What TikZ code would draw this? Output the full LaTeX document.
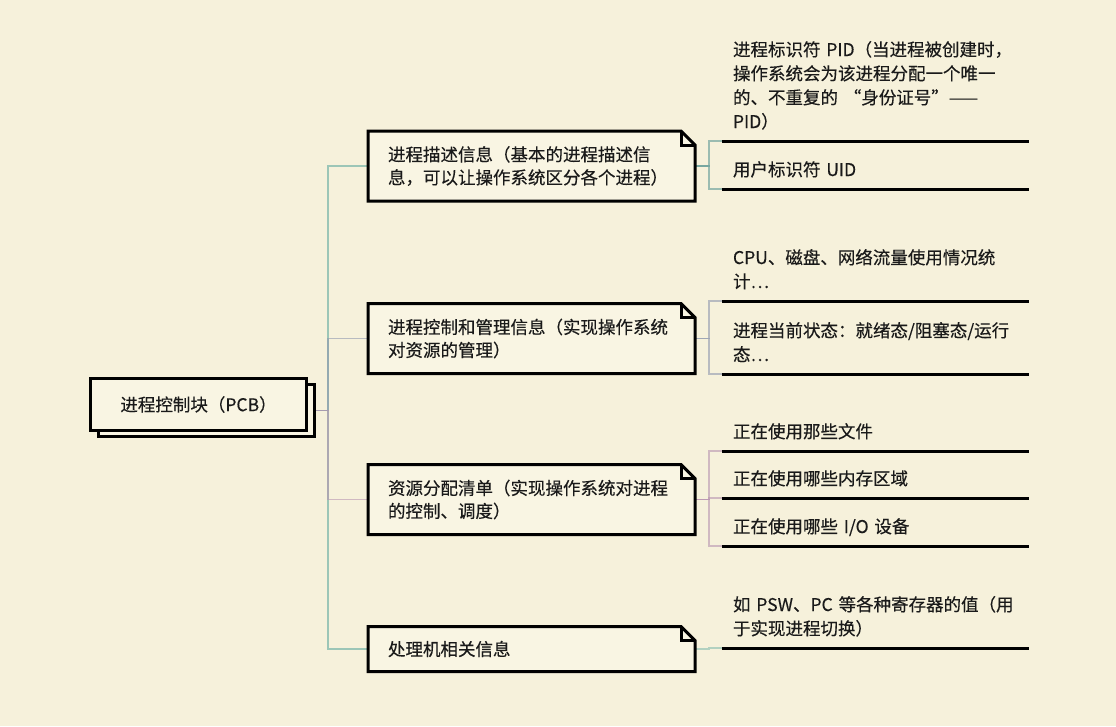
\documentclass[tikz,border=0pt]{standalone}
\usepackage{fontspec}
\setmainfont{Noto Sans CJK SC}[FakeBold=0.35]
\usetikzlibrary{backgrounds}
\definecolor{pagebg}{HTML}{F6F1DB}
\definecolor{boxfill}{HTML}{F9F5E3}
\definecolor{ink}{HTML}{1A1A1A}
\definecolor{tealtrunk}{HTML}{86BCAF}
\definecolor{tealdeep}{HTML}{5F9996}
\definecolor{lavender}{HTML}{8F98AE}
\definecolor{mauve}{HTML}{B894B0}
% fixed depth under the last line of a leaf, so its rule sits at a set distance
\newcommand\leafdepth{\rule[-13pt]{0pt}{13pt}}
\begin{document}
\begin{tikzpicture}[x=1pt, y=-1pt,
  every node/.style={outer sep=0pt},
  rootbox/.style={draw=black, line width=3pt, fill=boxfill, minimum width=216pt,
    minimum height=52pt, inner sep=0pt, font=\fontsize{17.5}{23}\selectfont, text=ink},
  branchtext/.style={minimum width=327pt, minimum height=70pt, inner xsep=20pt, inner ysep=0pt,
    text width=287pt, align=left, font=\fontsize{17.5}{23}\selectfont, text=ink},
  leaftext/.style={anchor=south west, inner xsep=11pt, inner ysep=0pt, text width=296pt,
    align=left, font=\fontsize{17.5}{24}\selectfont, text=ink},
  notebox/.style={draw=black, line width=3pt, fill=boxfill, line join=miter},
  link/.style={line width=1.5pt, opacity=0.8},
  softlink/.style={line width=1.5pt, opacity=0.6},
  leafrule/.style={draw=black, line width=3pt}
]
\useasboundingbox (0,0) rectangle (1116,726);

% central topic with its offset copy behind
\node[rootbox] (rootback) at (206.5,410.5) {};
\node[rootbox] (root) at (198.5,404.5) {进程控制块（PCB）};

\coordinate (trunk) at (328,0);

% main branches
\node[branchtext] (b1) at (531.5,166) {进程描述信息（基本的进程描述信\\息，可以让操作系统区分各个进程）};
\node[branchtext] (b2) at (531.5,338.5) {进程控制和管理信息（实现操作系统\\对资源的管理）};
\node[branchtext] (b3) at (531.5,499.5) {资源分配清单（实现操作系统对进程\\的控制、调度）};
\node[branchtext, minimum height=45pt] (b4) at (531.5,649) {处理机相关信息};

% leaves: text standing on a rule
\node[leaftext] (l1a) at (722,141) {进程标识符 PID（当进程被创建时，\\操作系统会为该进程分配一个唯一\\的、不重复的 “身份证号”——\\PID）\leafdepth};
\node[leaftext] (l1b) at (722,189) {用户标识符 UID\leafdepth};
\node[leaftext] (l2a) at (722,301) {CPU、磁盘、网络流量使用情况统\\计…\leafdepth};
\node[leaftext] (l2b) at (722,374) {进程当前状态：就绪态/阻塞态/运行\\态…\leafdepth};
\node[leaftext] (l3a) at (722,451) {正在使用那些文件\leafdepth};
\node[leaftext] (l3b) at (722,498) {正在使用哪些内存区域\leafdepth};
\node[leaftext] (l3c) at (722,546) {正在使用哪些 I/O 设备\leafdepth};
\node[leaftext] (l4) at (722,648) {如 PSW、PC 等各种寄存器的值（用\\于实现进程切换）\leafdepth};

\foreach \l in {l1a,l1b,l2a,l2b,l3a,l3b,l3c,l4}
  \draw[leafrule] (\l.south west) -- ++(307,0);

\begin{scope}[on background layer]
  \fill[pagebg] (0,0) rectangle (1116,726);

  % central topic to branches
  \draw[link, tealtrunk] (rootback.east) -- (rootback.east -| trunk) |- (b1.west);
  \draw[link, tealtrunk] (rootback.east) -- (rootback.east -| trunk) |- (b4.west);
  \draw[softlink, lavender] (rootback.east) -- (rootback.east -| trunk) |- (b2.west);
  \draw[softlink, mauve] (rootback.east) -- (rootback.east -| trunk) |- (b3.west);

  % branches to leaves
  \foreach \b/\l/\c in {b1/l1a/tealdeep, b1/l1b/tealdeep, b2/l2a/lavender, b2/l2b/lavender,
                        b3/l3a/mauve, b3/l3b/mauve, b3/l3c/mauve, b4/l4/tealtrunk}
    \draw[softlink, \c] (\b.east) -| ([xshift=-13pt]\l.south west) -- (\l.south west);

  % note-shaped boxes with a folded corner
  \foreach \b in {b1,b2,b3,b4} {
    \draw[notebox] (\b.north west) -- ([xshift=-14pt]\b.north east)
      -- ([yshift=-14pt]\b.north east) -- (\b.south east) -- (\b.south west) -- cycle;
    \draw[notebox, fill=none] ([xshift=-14pt]\b.north east) |- ([yshift=-14pt]\b.north east);
  }
\end{scope}
\end{tikzpicture}
\end{document}
